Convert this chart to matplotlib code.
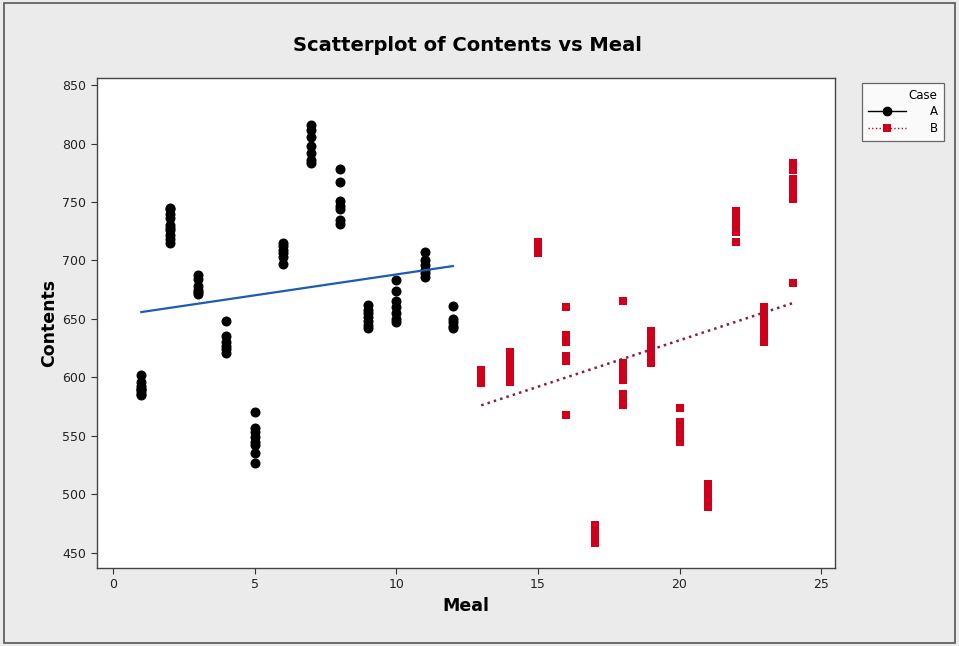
import numpy as np
import matplotlib
matplotlib.use("Agg")
import matplotlib.pyplot as plt
from matplotlib.lines import Line2D
from matplotlib.patches import Rectangle

# ---- data ----
meals_a = [1, 2, 3, 4, 5, 6, 7, 8, 9, 10, 11, 12]
contents_a = [
    [602, 596, 593, 590, 588, 586, 585, 590],
    [745, 740, 736, 730, 726, 722, 718, 715, 744, 728],
    [688, 684, 678, 675, 673, 671],
    [648, 635, 630, 627, 624, 621],
    [570, 557, 553, 549, 545, 542, 535, 527],
    [715, 712, 709, 706, 703, 697],
    [816, 812, 806, 798, 792, 786, 783],
    [778, 767, 751, 747, 744, 735, 731],
    [662, 658, 655, 652, 648, 645, 642],
    [683, 674, 665, 660, 655, 650, 647],
    [707, 700, 696, 692, 689, 686],
    [661, 650, 647, 644, 642],
]
meals_b = [13, 14, 15, 16, 17, 18, 19, 20, 21, 22, 23, 24]
contents_b = [
    [606, 603, 600, 597, 595],
    [622, 618, 614, 610, 605, 600, 596],
    [716, 712, 708, 706],
    [660, 636, 630, 618, 614, 568],
    [474, 470, 466, 462, 458],
    [665, 612, 607, 602, 598, 586, 580, 576],
    [640, 633, 627, 622, 618, 612],
    [574, 562, 556, 550, 545],
    [509, 503, 497, 492, 489],
    [742, 736, 730, 724, 716],
    [660, 653, 647, 641, 635, 630],
    [783, 777, 770, 763, 757, 753, 681],
]
x_ticks = [0, 5, 10, 15, 20, 25]
y_ticks = [450, 500, 550, 600, 650, 700, 750, 800, 850]

def flatten(meals, vals):
    xs, ys = [], []
    for m, v in zip(meals, vals):
        xs += [m] * len(v)
        ys += v
    return np.array(xs, float), np.array(ys, float)

xa, ya = flatten(meals_a, contents_a)
xb, yb = flatten(meals_b, contents_b)

# ---- figure ----
bg = "#ebebeb"
fig = plt.figure(figsize=(9.59, 6.46), dpi=100, facecolor=bg)
plt.rcParams["font.family"] = ["DejaVu Sans"]
ax = fig.add_axes([0.101, 0.121, 0.770, 0.758])
ax.set_facecolor("white")

red = "#d0001c"
ax.plot(xa, ya, "o", color="black", markersize=6.2, zorder=3)
ax.plot(xb, yb, "s", color=red, markersize=5.6, markeredgewidth=0, zorder=3)

# fitted lines
pa = np.polyfit(xa, ya, 1)
pb = np.polyfit(xb, yb, 1)
fa = np.array([min(meals_a), max(meals_a)], float)
fb = np.array([min(meals_b), max(meals_b)], float)
ax.plot(fa, np.polyval(pa, fa), "-", color="#1f5bb0", lw=1.6, zorder=4)
ax.plot(fb, np.polyval(pb, fb), ":", color="#8a1c3c", lw=1.8, zorder=4)

ax.set_xlim(-0.57, 25.5)
ax.set_ylim(437, 856)
ax.set_xticks(x_ticks)
ax.set_yticks(y_ticks)
ax.tick_params(labelsize=9, length=4, color="#333333", labelcolor="#222222")
for s in ax.spines.values():
    s.set_color("#444444")
    s.set_linewidth(1.0)

ax.set_xlabel("Meal", fontsize=12.5, fontweight="bold", labelpad=4)
ax.set_ylabel("Contents", fontsize=12.5, fontweight="bold", labelpad=3)
fig.text(0.487, 0.929, "Scatterplot of Contents vs Meal", ha="center", va="center",
         fontsize=14, fontweight="bold")

# legend
handles = [
    Line2D([0], [0], color="black", lw=1, marker="o", markersize=6),
    Line2D([0], [0], color=red, lw=1, ls=":", marker="s", markersize=6, markeredgewidth=0),
]
leg = fig.legend(handles, ["A", "B"], title="Case", loc="upper left",
                 bbox_to_anchor=(0.893, 0.881), fontsize=8.5, title_fontsize=8.5,
                 frameon=True, fancybox=False, edgecolor="#444444",
                 handlelength=3.2, handletextpad=2.0, borderpad=0.5,
                 labelspacing=0.3, alignment="right")
leg.get_frame().set_linewidth(0.9)

# outer border
fig.patches.append(Rectangle((0.004, 0.004), 0.992, 0.992, transform=fig.transFigure,
                             fill=False, edgecolor="#555555", lw=1.2))

fig.savefig("out.png", dpi=100, facecolor=bg)
